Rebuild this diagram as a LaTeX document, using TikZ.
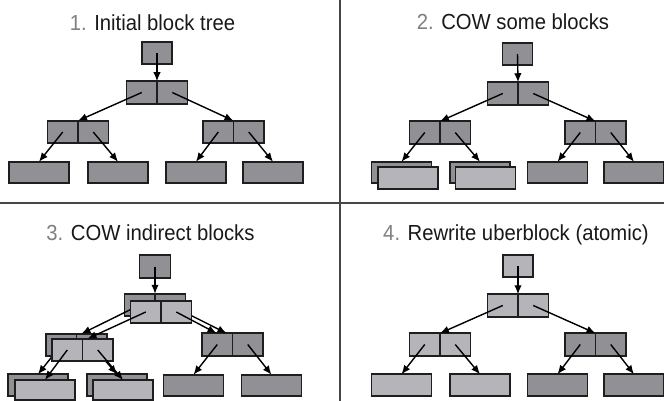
\documentclass[tikz,border=0pt]{standalone}
\usepackage{fontspec}
\setmainfont{Liberation Sans}
\usetikzlibrary{arrows.meta}
\definecolor{dkfill}{RGB}{145,145,149}
\definecolor{ltfill}{RGB}{181,181,185}
\definecolor{edgec}{RGB}{30,30,30}
\definecolor{numc}{RGB}{128,128,128}
\definecolor{txtc}{RGB}{25,25,25}
\definecolor{divc}{RGB}{70,70,70}
\tikzset{
 half/.style={draw=edgec, line width=1.8pt, inner sep=0pt, outer sep=0pt, minimum width=30.5pt, minimum height=22.5pt},
 dkh/.style={half, fill=dkfill},
 lth/.style={half, fill=ltfill},
 leaf/.style={draw=edgec, line width=1.8pt, inner sep=0pt, outer sep=0pt, minimum width=60pt, minimum height=21.5pt},
 dkleaf/.style={leaf, fill=dkfill},
 ltleaf/.style={leaf, fill=ltfill},
 arr/.style={draw=black, line width=1.4pt, -{Latex[length=9pt,width=7.5pt]}},
 ttl/.style={anchor=base, inner sep=0pt, font=\fontsize{21.8}{21.8}\selectfont, text=txtc},
 divider/.style={draw=divc, line width=1.7pt},
}
\newcommand\splitblk[4]{\node[#4, anchor=east] (#1a) at (#2,#3) {};\node[#4, anchor=west] (#1b) at (#2,#3) {};}
\newcommand\ttltext[2]{\scalebox{0.93}[1]{\textcolor{numc}{#1} #2}}
\begin{document}
\begin{tikzpicture}[x=1pt,y=-1pt]
\useasboundingbox (0,0) rectangle (664,401);
\fill[white] (0,0) rectangle (664,401);
% dividers
\draw[divider] (340,0) -- (340,401);
\draw[divider] (0,203) -- (664,203);
% titles
\node[ttl] (t1) at (152.5,31) {\ttltext{1.}{Initial block tree}};
\node[ttl] (t2) at (513,30) {\ttltext{2.}{COW some blocks}};
\node[ttl] (t3) at (150.5,240) {\ttltext{3.}{COW indirect blocks}};
\node[ttl] (t4) at (516,240) {\ttltext{4.}{Rewrite uberblock (atomic)}};
% ---------- panel 1 ----------
\node[dkh, minimum width=30pt] (p1r) at (157,53) {};
\splitblk{p1m}{157}{92.5}{dkh}
\splitblk{p1l}{78}{132}{dkh}
\splitblk{p1q}{233.5}{132}{dkh}
\node[dkleaf] (p1f1) at (39,172.5) {};
\node[dkleaf] (p1f2) at (118,172.5) {};
\node[dkleaf] (p1f3) at (196,172.5) {};
\node[dkleaf] (p1f4) at (273,172.5) {};
\draw[arr] (p1r.center) -- (p1ma.north east);
\draw[arr] (p1ma.center) -- (p1la.north east);
\draw[arr] (p1mb.center) -- (p1qa.north east);
\draw[arr] (p1la.center) -- (p1f1.north);
\draw[arr] (p1lb.center) -- (p1f2.north);
\draw[arr] (p1qa.center) -- (p1f3.north);
\draw[arr] (p1qb.center) -- (p1f4.north);
% ---------- panel 2 ----------
\node[dkh, minimum width=30pt] (p2r) at (517.5,54) {};
\splitblk{p2m}{518}{93.5}{dkh}
\splitblk{p2l}{440}{132.5}{dkh}
\splitblk{p2q}{595.5}{132.5}{dkh}
\node[dkleaf] (p2f1) at (401.5,172.5) {};
\node[dkleaf] (p2f2) at (480,172.5) {};
\node[ltleaf] (p2g1) at (408,178) {};
\node[ltleaf] (p2g2) at (485.5,178) {};
\node[dkleaf] (p2f3) at (557.5,172.5) {};
\node[dkleaf] (p2f4) at (634,172.5) {};
\draw[arr] (p2r.center) -- (p2ma.north east);
\draw[arr] (p2ma.center) -- (p2la.north east);
\draw[arr] (p2mb.center) -- (p2qa.north east);
\draw[arr] (p2la.center) -- (p2f1.north);
\draw[arr] (p2lb.center) -- (p2f2.north);
\draw[arr] (p2qa.center) -- (p2f3.north);
\draw[arr] (p2qb.center) -- (p2f4.north);
% ---------- panel 3 ----------
\node[dkleaf] (p3f1) at (38,385) {};
\node[dkleaf] (p3f2) at (117,385) {};
\node[dkleaf] (p3f3) at (193.5,385.5) {};
\node[dkleaf] (p3f4) at (271.5,385.5) {};
\splitblk{p3l}{76.5}{345}{dkh}
\splitblk{p3q}{232.5}{344.5}{dkh}
\draw[arr] (p3la.center) -- (p3f1.north);
\draw[arr] (p3lb.center) -- (p3f2.north);
\draw[arr] (p3qa.center) -- (p3f3.north);
\draw[arr] (p3qb.center) -- (p3f4.north);
\node[ltleaf, minimum height=20pt] (p3g1) at (45,390) {};
\node[ltleaf, minimum height=20pt] (p3g2) at (123,390) {};
\splitblk{p3n}{82.5}{350}{lth}
\draw[arr] (p3na.center) -- (p3g1.north);
\draw[arr] (p3nb.center) -- (p3g2.north);
\splitblk{p3m}{155}{305}{dkh}
\draw[arr] (p3ma.center) -- ([xshift=5pt]p3la.north east);
\draw[arr] (p3mb.center) -- ([xshift=-6pt]p3qa.north east);
\splitblk{p3k}{161}{312}{lth}
\draw[arr] (p3ka.center) -- ([xshift=5pt]p3na.north east);
\draw[arr] (p3kb.center) -- ([xshift=-16pt]p3qa.north east);
\node[dkh, minimum width=31pt] (p3r) at (155,266.5) {};
\draw[arr] (p3r.center) -- (p3ma.north east);
% ---------- panel 4 ----------
\node[lth, minimum width=30pt] (p4r) at (518,266) {};
\splitblk{p4m}{518}{305.5}{lth}
\splitblk{p4l}{440}{344.5}{lth}
\splitblk{p4q}{595.5}{344.5}{dkh}
\node[ltleaf] (p4f1) at (401.5,385) {};
\node[ltleaf] (p4f2) at (480,385) {};
\node[dkleaf] (p4f3) at (557.5,385) {};
\node[dkleaf] (p4f4) at (634,385) {};
\draw[arr] (p4r.center) -- (p4ma.north east);
\draw[arr] (p4ma.center) -- (p4la.north east);
\draw[arr] (p4mb.center) -- (p4qa.north east);
\draw[arr] (p4la.center) -- (p4f1.north);
\draw[arr] (p4lb.center) -- (p4f2.north);
\draw[arr] (p4qa.center) -- (p4f3.north);
\draw[arr] (p4qb.center) -- (p4f4.north);
\end{tikzpicture}
\end{document}
